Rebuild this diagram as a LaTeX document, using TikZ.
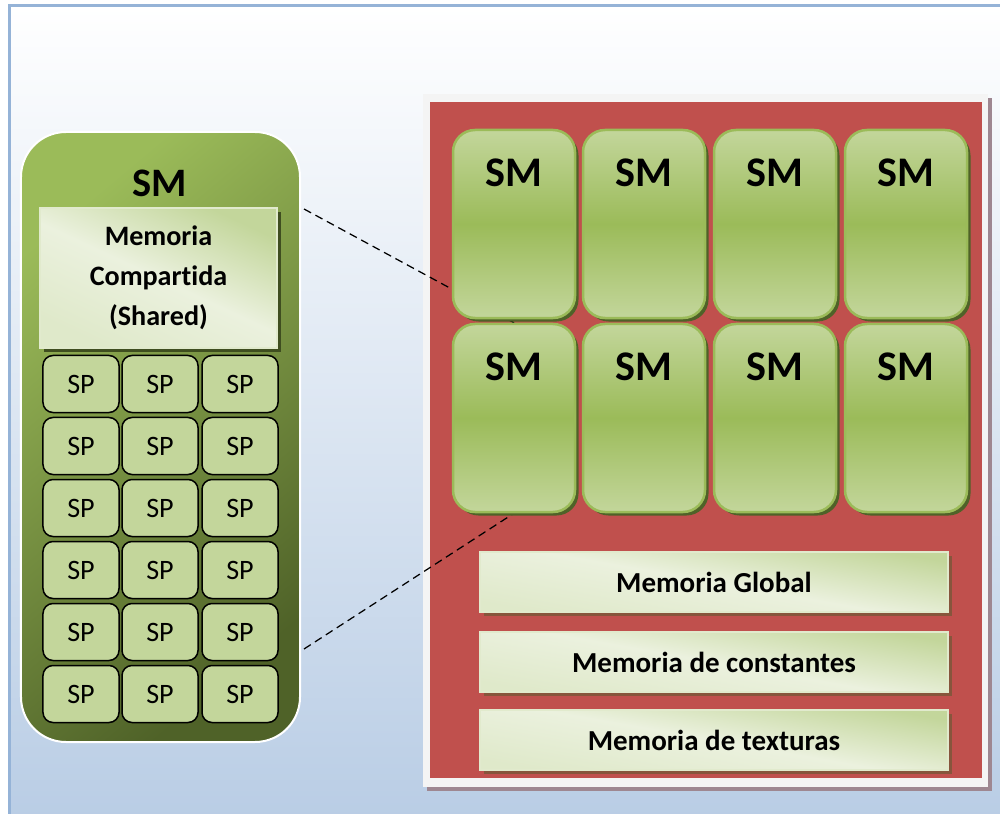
\documentclass[tikz,border=0pt]{standalone}
\usepackage{fontspec}
\setmainfont{Carlito}[Ligatures=NoCommon]
\usetikzlibrary{calc,shadows}

\definecolor{frameblue}{RGB}{149,179,215}
\definecolor{bgblue}{RGB}{185,205,229}
\definecolor{smlight}{RGB}{155,187,89}
\definecolor{smdark}{RGB}{79,98,40}
\definecolor{splight}{RGB}{195,214,155}
\definecolor{memlight}{RGB}{235,241,222}
\definecolor{gpured}{RGB}{192,80,77}
\definecolor{framegray}{RGB}{244,244,244}
\definecolor{frameshadow}{RGB}{158,135,145}
\definecolor{barshadow}{RGB}{135,85,60}

\pgfdeclarelayer{panel}
\pgfdeclarelayer{lines}
\pgfsetlayers{panel,lines,main}

\tikzset{
    smbig/.style={
        rounded corners=9mm,
        draw=white,
        line width=0.4mm,
        top color=smlight,
        bottom color=smdark,
        shading angle=40,
        minimum width=55.8mm,
        minimum height=122mm
    },
    sharedbox/.style={
        draw=splight!50!white,
        line width=0.3mm,
        top color=splight,
        bottom color=memlight!70!splight,
        middle color=memlight,
        shading angle=-25,
        general shadow={fill=smdark!80!black, shadow xshift=0.8mm, shadow yshift=-0.8mm},
        align=center,
        font=\bfseries\fontsize{16}{22.8}\selectfont
    },
    spcell/.style={
        draw=black,
        line width=0.3mm,
        rounded corners=2mm,
        fill=splight,
        minimum width=15.2mm,
        minimum height=11.4mm,
        font=\fontsize{16}{18}\selectfont
    },
    smtitle/.style={
        anchor=north,
        inner sep=0pt,
        yshift=-6mm,
        font=\bfseries\fontsize{24}{28}\selectfont
    },
    smcell/.style={
        draw=smlight,
        line width=0.5mm,
        rounded corners=4.4mm,
        top color=splight,
        bottom color=splight,
        middle color=smlight,
        general shadow={fill=smdark, shadow xshift=0.7mm, shadow yshift=-0.7mm},
        minimum width=24.4mm,
        minimum height=37.6mm,
        label={[smtitle]north:SM}
    },
    membar/.style={
        draw=splight!50!white,
        line width=0.3mm,
        top color=splight,
        bottom color=memlight!70!splight,
        middle color=memlight,
        shading angle=-10,
        general shadow={fill=barshadow, shadow xshift=0.8mm, shadow yshift=-0.8mm},
        minimum width=93.6mm,
        minimum height=12mm,
        font=\bfseries\fontsize{16.5}{20}\selectfont
    },
    zoomline/.style={
        black,
        line width=0.25mm,
        dash pattern=on 1.6mm off 1mm
    }
}

\begin{document}
\begin{tikzpicture}[x=0.2mm, y=-0.2mm]

    \useasboundingbox (0,0) rectangle (1000,814);
    \clip (0,0) rectangle (1000,814);

    \begin{pgfonlayer}{panel}
    % background
    \draw[frameblue, line width=0.6mm, top color=white, bottom color=bgblue]
        (9,6) rectangle
        (1030,820);

    % gpu
    \path[fill=framegray, general shadow={fill=frameshadow, shadow xshift=0.8mm, shadow yshift=-0.8mm}]
        (423,94) rectangle
        (988,787);
    \fill[gpured]
        (430,102) rectangle
        (982,778);
    \end{pgfonlayer}

    % sm (left)
    \node[smbig] (smbig) at (160.5,437) {};
    \node[font=\bfseries\fontsize{23}{26}\selectfont] (smname) at (160,183) {SM};
    \node[sharedbox, minimum width=47.4mm, minimum height=28mm] (shared) at (158.5,278)
        {Memoria\\Compartida\\(Shared)};

    % sp
    \foreach \row/\y in {1/384, 2/446, 3/508, 4/570, 5/632, 6/694}
        \foreach \col/\x in {1/81, 2/160, 3/240}
            \node[spcell] (sp\row\col) at (\x,\y) {SP};

    % sm (gpu)
    \foreach \row/\y in {1/224, 2/418}
        \foreach \col/\x in {1/514, 2/644, 3/775, 4/906}
            \node[smcell] (sm\row\col) at (\x,\y) {};

    % memories
    \node[membar] (global) at (714,582) {Memoria Global};
    \node[membar] (const) at (714,662) {Memoria de constantes};
    \node[membar] (tex) at (714,740) {Memoria de texturas};

    % zoom
    \begin{pgfonlayer}{lines}
    \coordinate (zoom top) at ($(smbig.north east)+(3,78)$);
    \coordinate (zoom bottom) at ($(smbig.south east)+(3,-94)$);

    \draw[zoomline]
        (zoom top) --
        (sm21.north);
    \draw[zoomline]
        (zoom bottom) --
        (sm21.south);
    \end{pgfonlayer}

\end{tikzpicture}
\end{document}
